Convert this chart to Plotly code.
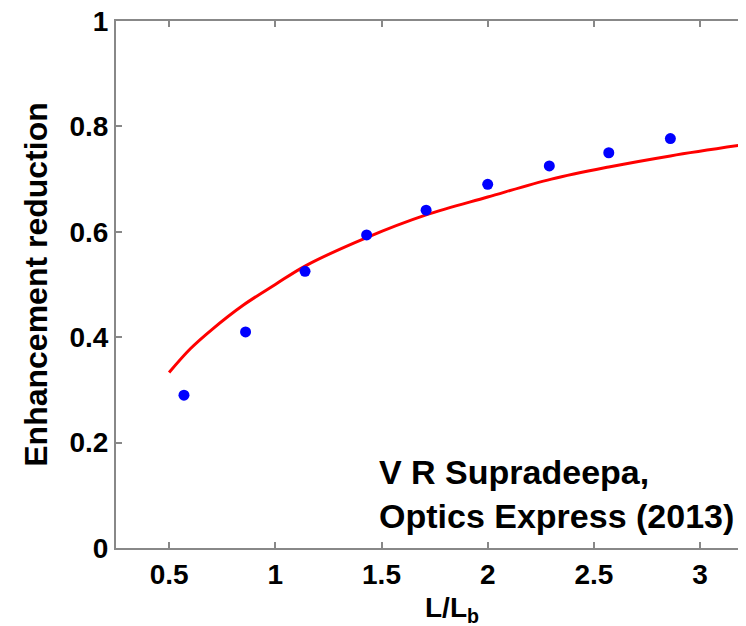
import plotly.graph_objects as go

# Measured data points
x_data = [0.57, 0.86, 1.14, 1.43, 1.71, 2.00, 2.29, 2.57, 2.86]
y_data = [0.290, 0.410, 0.525, 0.594, 0.641, 0.690, 0.725, 0.750, 0.777]

# Fitted curve
curve_x = [0.50, 0.60, 0.70, 0.85, 1.00, 1.14, 1.43, 1.71, 2.00, 2.30, 2.57, 2.86, 3.22]
curve_y = [0.333, 0.378, 0.414, 0.461, 0.500, 0.535, 0.589, 0.632, 0.666, 0.700, 0.723, 0.744, 0.766]

x_ticks = [0.5, 1, 1.5, 2, 2.5, 3]
x_tick_labels = ["0.5", "1", "1.5", "2", "2.5", "3"]
y_ticks = [0, 0.2, 0.4, 0.6, 0.8, 1]
y_tick_labels = ["0", "0.2", "0.4", "0.6", "0.8", "1"]

FONT = "Liberation Sans"
AX = "#888888"

fig = go.Figure()
fig.add_trace(go.Scatter(x=curve_x, y=curve_y, mode="lines",
                         line=dict(color="#ff0000", width=3, shape="spline"),
                         showlegend=False, hoverinfo="skip"))
fig.add_trace(go.Scatter(x=x_data, y=y_data, mode="markers",
                         marker=dict(color="#0000ff", size=11, line=dict(width=0)),
                         showlegend=False))

fig.update_layout(
    width=738, height=618,
    margin=dict(l=108, r=0, t=13, b=78, autoexpand=False),
    paper_bgcolor="white", plot_bgcolor="white",
    font=dict(family=FONT, color="black"),
    xaxis=dict(range=[0.25, 3.216], tickvals=x_ticks, ticktext=x_tick_labels,
               automargin=False, ticklabeloverflow="allow",
               showgrid=False, zeroline=False, showline=True, linecolor=AX, linewidth=2,
               mirror="ticks", ticks="inside", ticklen=6, tickwidth=1.5, tickcolor=AX,
               tickfont=dict(size=28, family=FONT, weight="bold", color="black")),
    yaxis=dict(range=[0, 1], tickvals=y_ticks, ticktext=y_tick_labels,
               automargin=False, ticklabeloverflow="allow",
               showgrid=False, zeroline=False, showline=True, linecolor=AX, linewidth=2,
               mirror=False, ticks="inside", ticklen=6, tickwidth=1.5, tickcolor=AX,
               tickfont=dict(size=28, family=FONT, weight="bold", color="black"),
               title=dict(text="Enhancement reduction", standoff=12,
                          font=dict(size=32, family=FONT, weight="bold", color="black"))),
)

fig.add_annotation(x=0.533, y=-0.116, xref="paper", yref="paper",
                   xanchor="center", yanchor="middle", showarrow=False,
                   text="L/L<sub>b</sub>",
                   font=dict(size=28, family=FONT, weight="bold", color="black"))

fig.add_annotation(x=1.48, y=0.185, xref="x", yref="y", xanchor="left", yanchor="top",
                   showarrow=False, align="left",
                   text="V R Supradeepa,<br>Optics Express (2013)",
                   font=dict(size=34, family=FONT, weight="bold", color="black"))

fig.write_html("out.html")
